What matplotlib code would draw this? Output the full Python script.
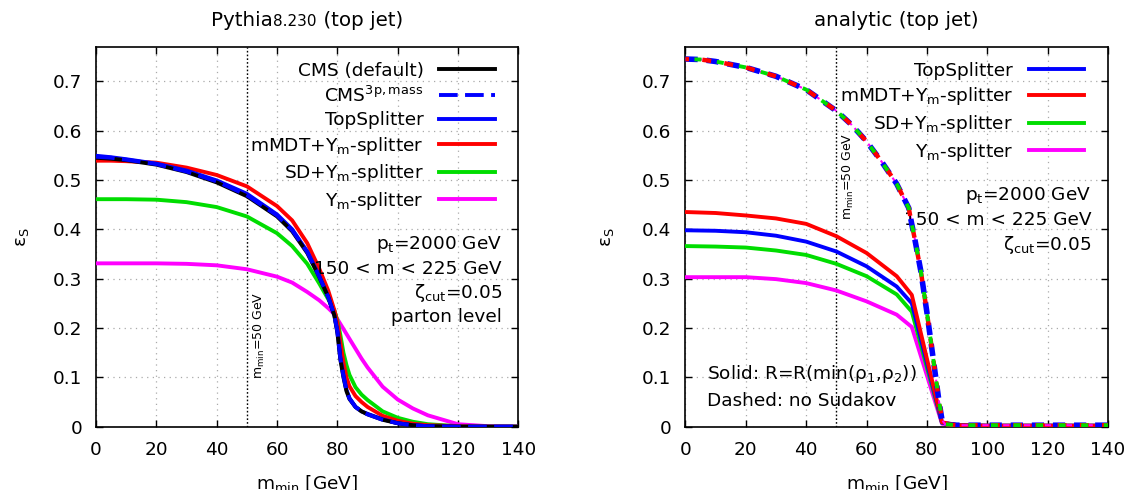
"""Top-jet signal efficiency vs m_min: Pythia8.230 and analytic results side by side."""
import matplotlib
matplotlib.use("Agg")
import matplotlib.pyplot as plt
from matplotlib.offsetbox import TextArea, HPacker, AnchoredOffsetbox

plt.rcParams["mathtext.default"] = "regular"
plt.rcParams["font.family"] = "DejaVu Sans"

# ---- Pythia8.230, parton level -------------------------------------------
m_min_mc = [0, 5, 10, 20, 30, 40, 50, 60, 65, 70, 74, 77, 79, 80, 81, 82, 83, 84,
            86, 88, 90, 95, 100, 105, 110, 120, 130, 140]
eff_cms_default = [0.545, 0.543, 0.540, 0.531, 0.516, 0.495, 0.467, 0.426, 0.396, 0.352,
                   0.303, 0.262, 0.225, 0.190, 0.135, 0.100, 0.072, 0.056, 0.040, 0.031,
                   0.025, 0.014, 0.007, 0.003, 0.001, 0.0, 0.0, 0.0]
eff_cms_3p_mass = [0.547, 0.545, 0.541, 0.532, 0.517, 0.497, 0.469, 0.428, 0.398, 0.354,
                   0.304, 0.262, 0.225, 0.192, 0.137, 0.102, 0.073, 0.057, 0.040, 0.031,
                   0.025, 0.014, 0.007, 0.003, 0.001, 0.0, 0.0, 0.0]
eff_topsplitter = [0.549, 0.546, 0.542, 0.533, 0.519, 0.499, 0.472, 0.430, 0.400, 0.355,
                   0.305, 0.262, 0.225, 0.195, 0.140, 0.105, 0.075, 0.058, 0.040, 0.031,
                   0.026, 0.015, 0.007, 0.003, 0.001, 0.0, 0.0, 0.0]
eff_mmdt_ym = [0.539, 0.539, 0.538, 0.535, 0.525, 0.510, 0.487, 0.447, 0.418, 0.372,
               0.320, 0.275, 0.236, 0.210, 0.170, 0.130, 0.100, 0.082, 0.062, 0.050,
               0.040, 0.022, 0.012, 0.006, 0.003, 0.001, 0.0, 0.0]
eff_sd_ym = [0.461, 0.461, 0.461, 0.460, 0.455, 0.445, 0.426, 0.392, 0.366, 0.330,
             0.290, 0.258, 0.235, 0.215, 0.185, 0.150, 0.125, 0.105, 0.080, 0.065,
             0.054, 0.031, 0.018, 0.010, 0.005, 0.001, 0.0, 0.0]
eff_ym = [0.331, 0.331, 0.331, 0.331, 0.330, 0.327, 0.319, 0.304, 0.292, 0.273,
          0.256, 0.240, 0.228, 0.218, 0.208, 0.198, 0.188, 0.178, 0.158, 0.138,
          0.120, 0.081, 0.055, 0.037, 0.023, 0.005, 0.001, 0.0]

# ---- analytic, R = R(min(rho1, rho2)) --------------------------------------
m_min_an = [0, 10, 20, 30, 40, 50, 60, 70, 75, 85, 90, 100, 110, 120, 130, 140]
an_topsplitter = [0.398, 0.397, 0.394, 0.387, 0.375, 0.355, 0.325, 0.284, 0.250,
                  0.008, 0.003, 0.002, 0.002, 0.002, 0.002, 0.002]
an_mmdt_ym = [0.435, 0.433, 0.428, 0.422, 0.411, 0.386, 0.352, 0.305, 0.267,
              0.009, 0.003, 0.002, 0.002, 0.002, 0.002, 0.002]
an_sd_ym = [0.366, 0.365, 0.363, 0.357, 0.348, 0.330, 0.305, 0.268, 0.233,
            0.008, 0.003, 0.002, 0.002, 0.002, 0.002, 0.002]
an_ym = [0.303, 0.303, 0.303, 0.299, 0.291, 0.276, 0.254, 0.227, 0.202,
         0.006, 0.003, 0.002, 0.002, 0.002, 0.002, 0.002]

# analytic without Sudakov (identical for all four taggers)
m_min_nosud = [0, 5, 10, 20, 30, 40, 50, 55, 60, 65, 70, 74, 75, 76, 78, 80, 82, 84,
               85, 86, 90, 100, 110, 120, 130, 140]
an_no_sudakov = [0.745, 0.744, 0.740, 0.728, 0.710, 0.683, 0.640, 0.612, 0.578, 0.537,
                 0.492, 0.443, 0.410, 0.380, 0.315, 0.232, 0.142, 0.052, 0.014, 0.005,
                 0.003, 0.003, 0.003, 0.003, 0.003, 0.003]

BLUE, RED, GREEN, MAGENTA = "#0000ff", "#ff0000", "#00dd00", "#ff00ff"
LW = 2.8
FS = 13.3

fig = plt.figure(figsize=(11.31, 4.9), dpi=100)
ax_l = fig.add_axes([0.0849, 0.1292, 0.3735, 0.7755])
ax_r = fig.add_axes([0.6061, 0.1292, 0.3735, 0.7755])


def style_axes(ax):
    ax.set_xlim(0, 140)
    ax.set_ylim(0, 0.77)
    ax.set_xticks(range(0, 141, 20))
    ax.set_yticks([0, 0.1, 0.2, 0.3, 0.4, 0.5, 0.6, 0.7])
    ax.set_yticklabels(["0", "0.1", "0.2", "0.3", "0.4", "0.5", "0.6", "0.7"])
    ax.tick_params(direction="in", length=5, width=1, top=True, right=True,
                   labelsize=FS, pad=10)
    ax.grid(True, linestyle=(0, (1, 3.5)), color="#aaaaaa", linewidth=0.9)
    for s in ax.spines.values():
        s.set_linewidth(1.2)
    ax.axvline(50, color="black", linestyle=(0, (1.2, 1.5)), linewidth=1.0, zorder=1)
    ax.set_xlabel(r"m$_{min}$ [GeV]", fontsize=FS, va="center")
    ax.xaxis.set_label_coords(0.5, -0.15)
    ax.set_ylabel(r"$\epsilon_S$", fontsize=FS, va="center")


def add_title(ax, parts):
    boxes = [TextArea(t, textprops=dict(fontsize=s)) for t, s in parts]
    pack = HPacker(children=boxes, align="baseline", pad=0, sep=0)
    anchored = AnchoredOffsetbox(loc="lower center", child=pack, frameon=False,
                                 bbox_to_anchor=(0.5, 1.03),
                                 bbox_transform=ax.transAxes, borderpad=0)
    ax.add_artist(anchored)


LEGEND_KW = dict(loc="upper right", bbox_to_anchor=(0.955, 0.972), frameon=False,
                 markerfirst=False, fontsize=FS, handlelength=3.0, handletextpad=0.85,
                 labelspacing=0.3, borderpad=0.25, borderaxespad=0)

# ---- left: Pythia --------------------------------------------------------
style_axes(ax_l)
ax_l.yaxis.set_label_coords(-0.175, 0.5)
ax_l.plot(m_min_mc, eff_ym, color=MAGENTA, lw=LW, label=r"Y$_m$-splitter", zorder=3)
ax_l.plot(m_min_mc, eff_sd_ym, color=GREEN, lw=LW, label=r"SD+Y$_m$-splitter", zorder=3)
ax_l.plot(m_min_mc, eff_mmdt_ym, color=RED, lw=LW, label=r"mMDT+Y$_m$-splitter", zorder=3)
ax_l.plot(m_min_mc, eff_topsplitter, color=BLUE, lw=LW, label="TopSplitter", zorder=3)
ax_l.plot(m_min_mc, eff_cms_default, color="black", lw=LW, label="CMS (default)", zorder=4)
ax_l.plot(m_min_mc, eff_cms_3p_mass, color=BLUE, lw=LW, linestyle=(0, (4.8, 1.9)),
          label=r"CMS$^{3p,mass}$", zorder=5)

handles, labels = ax_l.get_legend_handles_labels()
order = [4, 5, 3, 2, 1, 0]
ax_l.legend([handles[i] for i in order], [labels[i] for i in order], **LEGEND_KW)

for i, txt in enumerate([r"p$_t$=2000 GeV", "150 < m < 225 GeV",
                         r"ζ$_{cut}$=0.05", "parton level"]):
    ax_l.text(0.961, 0.48 - i * 0.064, txt, transform=ax_l.transAxes,
              ha="right", va="center", fontsize=FS)
ax_l.text(54, 0.186, r"m$_{min}$=50 GeV", rotation=90, fontsize=9,
          ha="center", va="center")
add_title(ax_l, [("Pythia", 14.3), ("8.230", 11), (" (top jet)", 14.3)])

# ---- right: analytic -----------------------------------------------------
style_axes(ax_r)
ax_r.yaxis.set_label_coords(-0.186, 0.5)
ax_r.plot(m_min_an, an_ym, color=MAGENTA, lw=LW, zorder=3)
ax_r.plot(m_min_an, an_sd_ym, color=GREEN, lw=LW, zorder=3)
ax_r.plot(m_min_an, an_topsplitter, color=BLUE, lw=LW, zorder=3)
ax_r.plot(m_min_an, an_mmdt_ym, color=RED, lw=LW, zorder=3)

# no-Sudakov curves coincide; offset dashes so every colour shows
ax_r.plot(m_min_nosud, an_no_sudakov, color=BLUE, lw=4.0,
          linestyle=(0, (2.2, 1.6)), zorder=4)
ax_r.plot(m_min_nosud, an_no_sudakov, color=RED, lw=3.2,
          linestyle=(1.2, (2.0, 3.0)), zorder=5)
ax_r.plot(m_min_nosud, an_no_sudakov, color=GREEN, lw=2.8,
          linestyle=(3.5, (1.8, 4.0)), zorder=6)
ax_r.plot(m_min_nosud, an_no_sudakov, color=MAGENTA, lw=1.5,
          linestyle=(0, (3.0, 2.0)), zorder=3)

leg_r = [ax_r.plot([], [], color=c, lw=LW, label=l)[0]
         for c, l in [(BLUE, "TopSplitter"), (RED, r"mMDT+Y$_m$-splitter"),
                      (GREEN, r"SD+Y$_m$-splitter"), (MAGENTA, r"Y$_m$-splitter")]]
ax_r.legend(handles=leg_r, **LEGEND_KW)

for i, txt in enumerate([r"p$_t$=2000 GeV", "150 < m < 225 GeV", r"ζ$_{cut}$=0.05"]):
    ax_r.text(0.961, 0.609 - i * 0.065, txt, transform=ax_r.transAxes,
              ha="right", va="center", fontsize=FS)
ax_r.text(0.05, 0.138, r"Solid: R=R(min(ρ$_1$,ρ$_2$))", transform=ax_r.transAxes,
          ha="left", va="center", fontsize=FS)
ax_r.text(0.05, 0.068, "Dashed: no Sudakov", transform=ax_r.transAxes,
          ha="left", va="center", fontsize=FS)
ax_r.text(54, 0.507, r"m$_{min}$=50 GeV", rotation=90, fontsize=9,
          ha="center", va="center")
add_title(ax_r, [("analytic (top jet)", 14.3)])

fig.savefig("out.png", dpi=100)
plt.close(fig)
